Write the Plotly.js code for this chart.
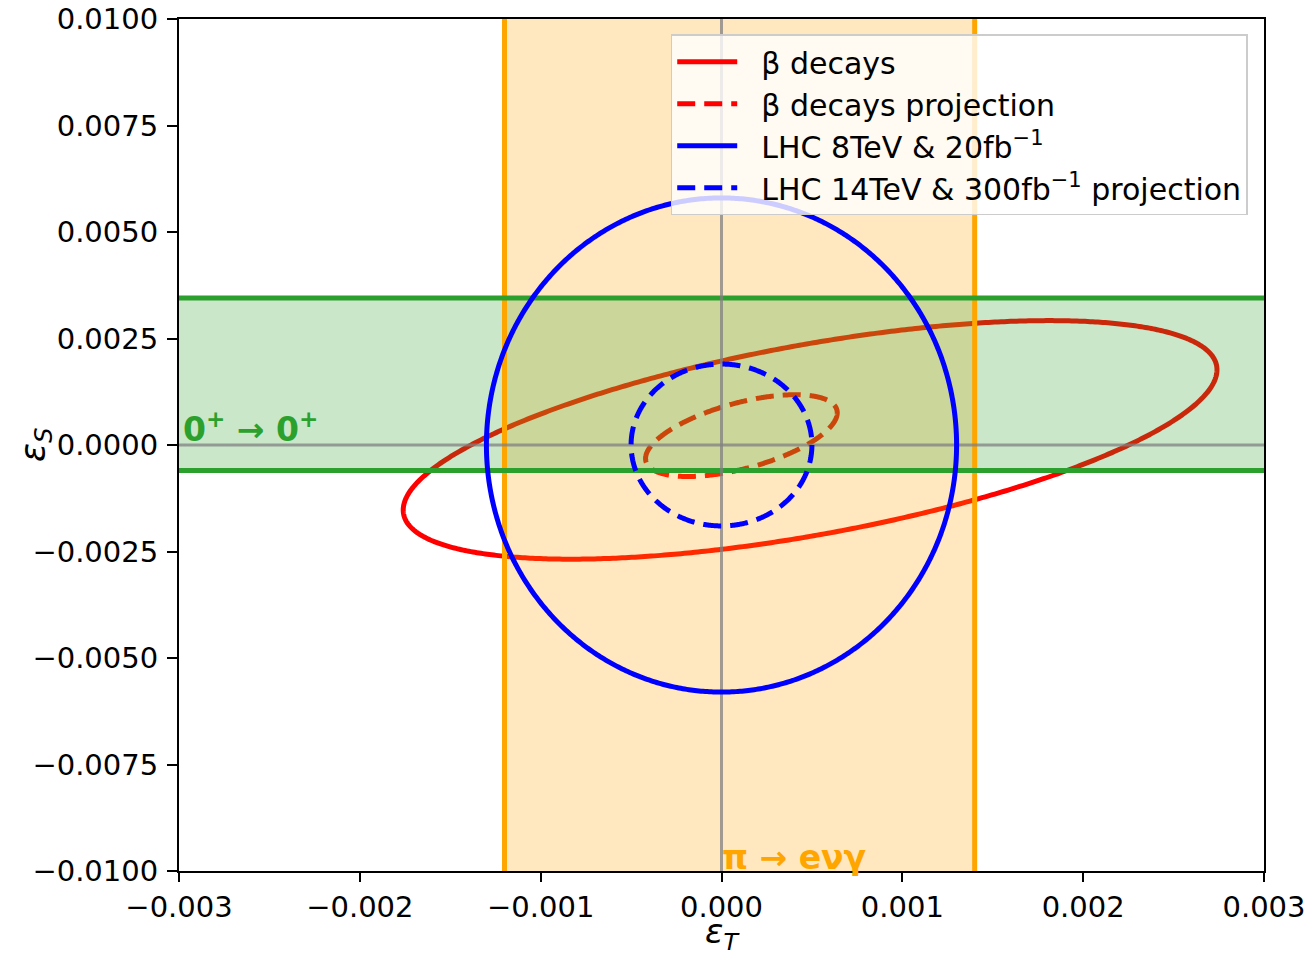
<!DOCTYPE html>
<html>
<head>
<meta charset="utf-8">
<script src="https://cdn.plot.ly/plotly-3.0.1.min.js"></script>
<style>
  html, body { margin: 0; padding: 0; background: #fff; }
  #chart { width: 1310px; height: 956px; }
</style>
</head>
<body>
<div id="chart"></div>
<script>
// ---- Data ----
// Ellipses: centre, half-extent along x and y, phase between x and y (degrees; 90 = axis-aligned)
const ellipseNames   = ['β decays', 'β decays projection', 'LHC 8TeV &amp; 20fb<sup>−1</sup>', 'LHC 14TeV &amp; 300fb<sup>−1</sup> projection'];
const ellipseCx      = [0.00049, 0.00011, 0.0, 0.0];
const ellipseCy      = [0.00012, 0.00022, 0.0, 0.0];
const ellipseHalfX   = [0.00225, 0.00053, 0.0013, 0.0005];
const ellipseHalfY   = [0.00280, 0.00096, 0.0058, 0.0019];
const ellipsePhase   = [54, 56, 90, 90];

// Bands
const piBandX   = [-0.0012, 0.0014];     // π → eνγ  (vertical band, ε_T)
const ffBandY   = [-0.0006, 0.00345];    // 0+ → 0+  (horizontal band, ε_S)

// Axes
const xRange = [-0.003, 0.003];
const yRange = [-0.01, 0.01];
const xTicks = [-0.003, -0.002, -0.001, 0.0, 0.001, 0.002, 0.003];
const yTicks = [-0.01, -0.0075, -0.005, -0.0025, 0.0, 0.0025, 0.005, 0.0075, 0.01];

// ---- Build ellipse outlines from their parameters ----
function ellipsePts(i) {
  const xs = [], ys = [];
  const ph = ellipsePhase[i] * Math.PI / 180;
  for (let k = 0; k <= 720; k++) {
    const t = k * Math.PI / 360;
    xs.push(ellipseCx[i] + ellipseHalfX[i] * Math.cos(t));
    ys.push(ellipseCy[i] + ellipseHalfY[i] * Math.cos(t + ph));
  }
  return {x: xs, y: ys};
}

const RED = '#ff0000', BLUE = '#0000ff', ORANGE = '#ffa500', GREEN = '#2ca02c';
const SP = '\u00a0\u00a0';
const traces = [];

// red ellipses (drawn below the bands)
[0, 1].forEach(i => {
  const p = ellipsePts(i);
  traces.push({
    type: 'scatter', mode: 'lines', x: p.x, y: p.y, name: SP + ellipseNames[i],
    line: {color: RED, width: 5, dash: i === 1 ? '18px,9px' : 'solid', simplify: false},
    hoverinfo: 'skip'
  });
});

// orange band fill
traces.push({
  type: 'scatter', mode: 'lines', showlegend: false, hoverinfo: 'skip',
  x: [piBandX[0], piBandX[1], piBandX[1], piBandX[0], piBandX[0]],
  y: [yRange[0], yRange[0], yRange[1], yRange[1], yRange[0]],
  fill: 'toself', fillcolor: 'rgba(255,165,0,0.25)', line: {width: 0}
});
// green band fill
traces.push({
  type: 'scatter', mode: 'lines', showlegend: false, hoverinfo: 'skip',
  x: [xRange[0], xRange[1], xRange[1], xRange[0], xRange[0]],
  y: [ffBandY[0], ffBandY[0], ffBandY[1], ffBandY[1], ffBandY[0]],
  fill: 'toself', fillcolor: 'rgba(44,160,44,0.25)', line: {width: 0}
});
// band edges
piBandX.forEach(v => traces.push({
  type: 'scatter', mode: 'lines', showlegend: false, hoverinfo: 'skip',
  x: [v, v], y: yRange, line: {color: ORANGE, width: 5}
}));
ffBandY.forEach(v => traces.push({
  type: 'scatter', mode: 'lines', showlegend: false, hoverinfo: 'skip',
  x: xRange, y: [v, v], line: {color: GREEN, width: 5}
}));
// zero lines
traces.push({type: 'scatter', mode: 'lines', showlegend: false, hoverinfo: 'skip',
  x: [0, 0], y: yRange, line: {color: 'rgba(128,128,128,0.75)', width: 3}});
traces.push({type: 'scatter', mode: 'lines', showlegend: false, hoverinfo: 'skip',
  x: xRange, y: [0, 0], line: {color: 'rgba(128,128,128,0.75)', width: 3}});

// blue ellipses (on top)
[2, 3].forEach(i => {
  const p = ellipsePts(i);
  traces.push({
    type: 'scatter', mode: 'lines', x: p.x, y: p.y, name: SP + ellipseNames[i],
    line: {color: BLUE, width: 5, dash: i === 3 ? '18px,9px' : 'solid', simplify: false},
    hoverinfo: 'skip'
  });
});

const FONT = 'DejaVu Sans, Liberation Sans, sans-serif';

const layout = {
  width: 1310, height: 956,
  margin: {l: 179, r: 46, t: 19, b: 85},
  paper_bgcolor: '#fff', plot_bgcolor: '#fff',
  font: {family: FONT, size: 29, color: '#000'},
  showlegend: true,
  legend: {
    x: 0.985, y: 0.982, xanchor: 'right', yanchor: 'top',
    bgcolor: 'rgba(255,255,255,0.8)', bordercolor: '#cccccc', borderwidth: 1.5,
    font: {family: FONT, size: 30, color: '#000'},
    itemwidth: 60, tracegroupgap: 0
  },
  xaxis: {
    range: xRange, tickvals: xTicks, tickformat: '.3f',
    showgrid: false, zeroline: false,
    showline: true, mirror: true, linecolor: '#000', linewidth: 2,
    ticks: 'outside', ticklen: 9, tickwidth: 2, tickcolor: '#000',
    tickfont: {family: FONT, size: 29},
    title: {text: '<i>ε</i><sub><i>T</i></sub>', font: {family: FONT, size: 34}, standoff: 7}
  },
  yaxis: {
    range: yRange, tickvals: yTicks, tickformat: '.4f',
    showgrid: false, zeroline: false,
    showline: true, mirror: true, linecolor: '#000', linewidth: 2,
    ticks: 'outside', ticklen: 10, tickwidth: 2, tickcolor: '#000',
    tickfont: {family: FONT, size: 29}, ticklabelstandoff: 3
  },
  annotations: [
    {x: -0.1327, y: 0.5, xref: 'paper', yref: 'paper', xanchor: 'center', yanchor: 'middle',
     textangle: -90, showarrow: false,
     text: '<i>ε</i><sub><i>S</i></sub>', font: {family: FONT, size: 35, color: '#000'}},
    {x: xRange[0], y: 0, xref: 'x', yref: 'y', xanchor: 'left', yanchor: 'bottom',
     xshift: 2, yshift: -6, showarrow: false,
     text: '<b>0<sup>+</sup> → 0<sup>+</sup></b>',
     font: {family: FONT, size: 33, color: GREEN}},
    {x: 0, y: yRange[0], xref: 'x', yref: 'y', xanchor: 'left', yanchor: 'bottom',
     xshift: -2, yshift: -8, showarrow: false,
     text: '<b>π → eνγ</b>',
     font: {family: FONT, size: 33, color: ORANGE}}
  ]
};

Plotly.newPlot('chart', traces, layout, {displayModeBar: false, staticPlot: true});
</script>
</body>
</html>
